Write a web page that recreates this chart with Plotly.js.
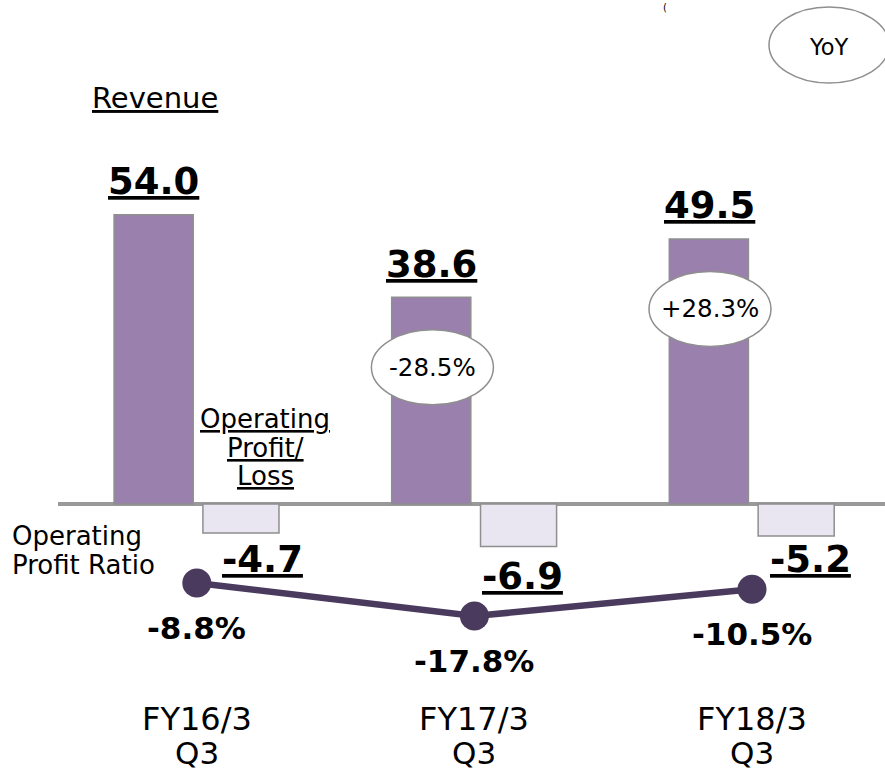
<!DOCTYPE html>
<html>
<head>
<meta charset="utf-8">
<script src="https://cdn.plot.ly/plotly-3.0.1.min.js"></script>
<style>
html,body{margin:0;padding:0;background:#ffffff;}
#chart{width:885px;height:773px;}
</style>
</head>
<body>
<div id="chart"></div>
<script>
// ---- data ----
const categories = ["FY16/3 Q3", "FY17/3 Q3", "FY18/3 Q3"];
const tickLine1 = ["FY16/3", "FY17/3", "FY18/3"];
const tickLine2 = ["Q3", "Q3", "Q3"];
const revenue = [54.0, 38.6, 49.5];
const operatingProfit = [-4.7, -6.9, -5.2];
const operatingRatio = [-8.8, -17.8, -10.5];
const revenueYoY = [null, "-28.5%", "+28.3%"];

// ---- layout constants (styles / offsets) ----
const W = 885, H = 773, ML = 58;
const PW = W - ML;
const FONT = "DejaVu Sans, Verdana, sans-serif";
const px2paperX = p => (p - ML) / PW;
const px2paperY = p => 1 - p / H;
const revShift = -43;            // revenue bar centre relative to category centre (px)
const opLabelDx = [66, 48, 58];   // op-profit label offsets (px)
const opLabelDy = [-26, -30, -23];
const thickU = s => '<span style="text-decoration:underline;text-decoration-thickness:3.5px;text-underline-offset:4px">' + s + '</span>';

const traces = [
  {
    type: "bar", x: categories, y: revenue, yaxis: "y",
    width: 0.285, offset: -0.298,
    marker: {color: "#9a80ad", line: {color: "#8f8f8f", width: 1.5}},
    hoverinfo: "skip"
  },
  {
    type: "bar", x: categories, y: operatingProfit, yaxis: "y2",
    width: 0.274, offset: 0.022,
    marker: {color: "#e9e5f1", line: {color: "#8f8f8f", width: 1.5}},
    hoverinfo: "skip"
  },
  {
    type: "scatter", mode: "lines+markers", x: categories, y: operatingRatio, yaxis: "y3",
    line: {color: "#4a3a5e", width: 6.5},
    marker: {size: 29, color: "#4a3a5e"},
    cliponaxis: false, hoverinfo: "skip"
  }
];

const annotations = [];
const shapes = [];

// revenue values
revenue.forEach((v, i) => {
  annotations.push({
    xref: "x", yref: "y", x: categories[i], y: v, xshift: revShift, yshift: 33,
    yanchor: "middle", xanchor: "center", showarrow: false,
    text: "<b>" + thickU(v.toFixed(1)) + "</b>",
    font: {family: FONT, size: 37, color: "#000"}
  });
});
// operating profit values
operatingProfit.forEach((v, i) => {
  annotations.push({
    xref: "x", yref: "y2", x: categories[i], y: v, xshift: opLabelDx[i], yshift: opLabelDy[i],
    yanchor: "middle", xanchor: "center", showarrow: false,
    text: "<b>" + thickU(v.toFixed(1)) + "</b>",
    font: {family: FONT, size: 37, color: "#000"}
  });
});
// operating ratio values
operatingRatio.forEach((v, i) => {
  annotations.push({
    xref: "x", yref: "y3", x: categories[i], y: v, yshift: -45,
    yanchor: "middle", xanchor: "center", showarrow: false,
    text: "<b>" + v.toFixed(1) + "%</b>",
    font: {family: FONT, size: 31, color: "#000"}
  });
});
// YoY ellipses on revenue bars
revenueYoY.forEach((t, i) => {
  if (!t) return;
  shapes.push({
    type: "circle", layer: "above",
    xref: "x", xsizemode: "pixel", xanchor: categories[i], x0: revShift + 1 - 61, x1: revShift + 1 + 61,
    yref: "y", ysizemode: "pixel", yanchor: revenue[i], y0: -70 - 37.5, y1: -70 + 37.5,
    fillcolor: "#ffffff", line: {color: "#8f8f8f", width: 1.5}
  });
  annotations.push({
    xref: "x", yref: "y", x: categories[i], y: revenue[i], xshift: revShift + 1, yshift: -70,
    yanchor: "middle", xanchor: "center", showarrow: false,
    text: t, font: {family: FONT, size: 24.5, color: "#000"}
  });
});
// category labels
categories.forEach((c, i) => {
  annotations.push({
    xref: "x", yref: "paper", x: c, y: px2paperY(719), yanchor: "middle", xanchor: "center",
    showarrow: false, text: tickLine1[i], font: {family: FONT, size: 32, color: "#000"}
  });
  annotations.push({
    xref: "x", yref: "paper", x: c, y: px2paperY(753), yanchor: "middle", xanchor: "center",
    showarrow: false, text: tickLine2[i], font: {family: FONT, size: 31, color: "#000"}
  });
});
// YoY legend ellipse
shapes.push({
  type: "circle", layer: "above", xref: "paper", yref: "paper",
  x0: px2paperX(769), x1: px2paperX(889), y0: px2paperY(83), y1: px2paperY(7),
  fillcolor: "#ffffff", line: {color: "#8f8f8f", width: 1.5}
});
annotations.push({
  xref: "paper", yref: "paper", x: px2paperX(829), y: px2paperY(46.5), xanchor: "center", yanchor: "middle",
  showarrow: false, text: "YoY", font: {family: FONT, size: 22.5, color: "#000"}
});
// Static labels
annotations.push({
  xref: "paper", yref: "paper", x: px2paperX(90), y: px2paperY(97.5), xanchor: "left", yanchor: "middle",
  showarrow: false, text: "<u>Revenue</u>", font: {family: FONT, size: 29, color: "#000"}
});
[["Operating", 418.5], ["Profit/", 447.5], ["Loss", 476]].forEach(([t, y]) => {
  annotations.push({
    xref: "paper", yref: "paper", x: px2paperX(265), y: px2paperY(y), xanchor: "center", yanchor: "middle",
    showarrow: false, text: "<u>" + t + "</u>", font: {family: FONT, size: 26, color: "#000"}
  });
});
[["Operating", 536], ["Profit Ratio", 565]].forEach(([t, y]) => {
  annotations.push({
    xref: "paper", yref: "paper", x: px2paperX(10), y: px2paperY(y), xanchor: "left", yanchor: "middle",
    showarrow: false, text: t, font: {family: FONT, size: 26, color: "#000"}
  });
});
// title fragment at top edge (kept small so it stays inside the picture)
annotations.push({
  xref: "paper", yref: "paper", x: px2paperX(665), y: 1, xanchor: "center", yanchor: "top",
  showarrow: false, text: "(", font: {family: FONT, size: 10, color: "#000"}
});

const layout = {
  width: W, height: H,
  margin: {l: ML, r: 0, t: 0, b: 0, pad: 0},
  paper_bgcolor: "#ffffff", plot_bgcolor: "#ffffff",
  showlegend: false,
  font: {family: FONT, color: "#000"},
  xaxis: {type: "category", range: [-0.5, 2.479], showgrid: false, showticklabels: false,
          zeroline: false, showline: false, ticks: "", fixedrange: true},
  yaxis: {range: [-50.23, 94.12], showgrid: false, showticklabels: false, ticks: "",
          zeroline: true, zerolinecolor: "#999999", zerolinewidth: 4, showline: false, fixedrange: true},
  yaxis2: {overlaying: "y", range: [-43.53, 81.55], visible: false, fixedrange: true},
  yaxis3: {overlaying: "y", range: [-60.6, 150.2], visible: false, fixedrange: true},
  shapes: shapes,
  annotations: annotations
};

Plotly.newPlot("chart", traces, layout, {displayModeBar: false, staticPlot: true});
</script>
</body>
</html>
